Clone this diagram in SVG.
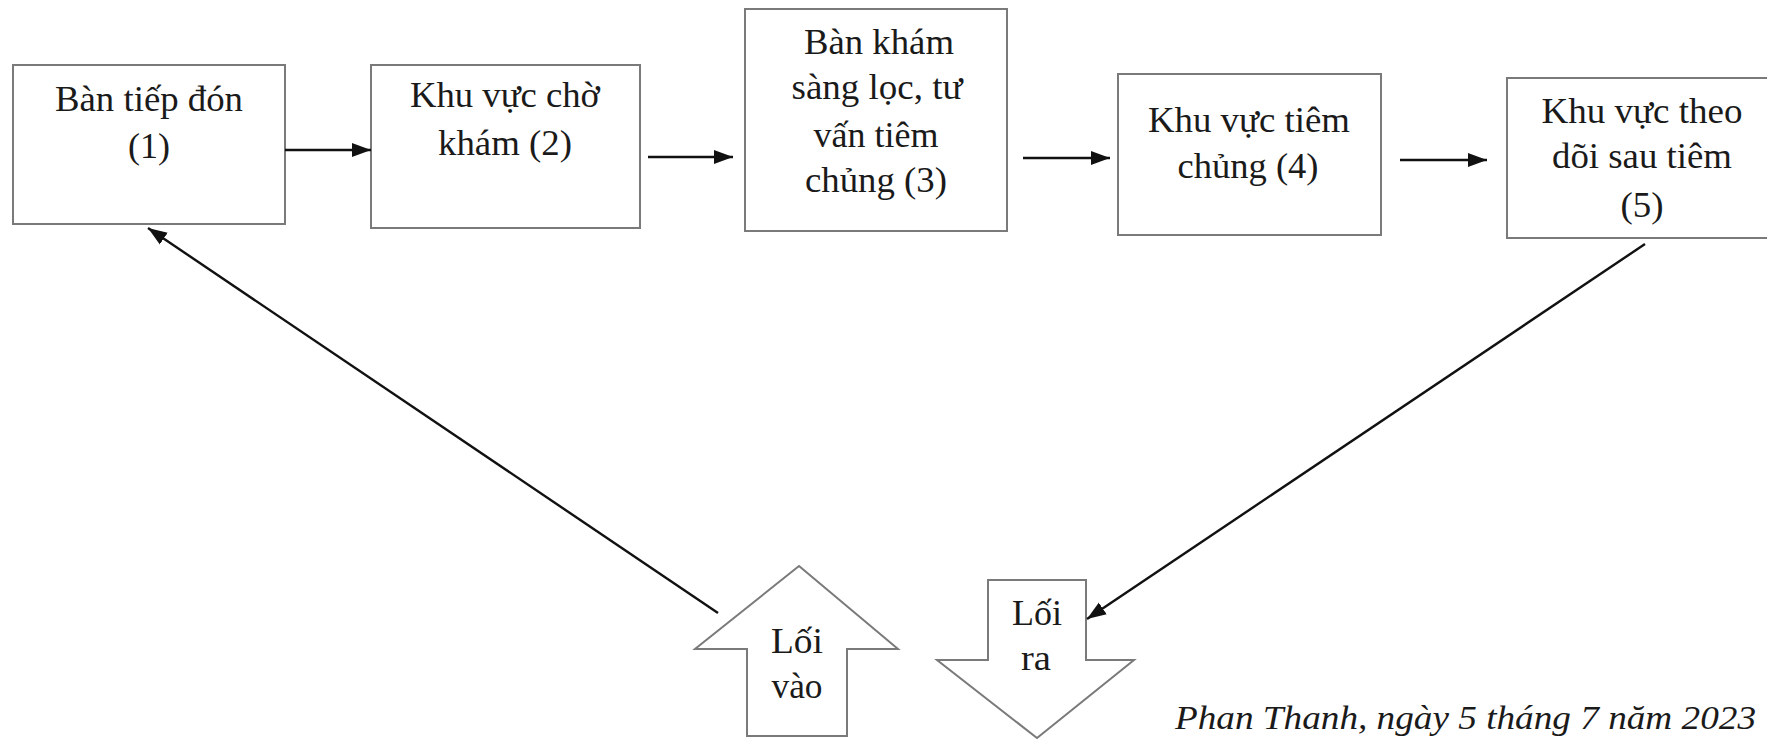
<svg xmlns="http://www.w3.org/2000/svg" width="1767" height="740" viewBox="0 0 1767 740">
<defs>
<style>
.box{fill:#ffffff;stroke:#7a7a7a;stroke-width:2}
.t{font-family:"Liberation Serif","Times New Roman",serif;font-size:35px;fill:#1a1a1a;text-anchor:middle}
.c{stroke:#111;stroke-width:2.4;fill:none}
.date{font-family:"Liberation Serif","Times New Roman",serif;font-size:33px;font-style:italic;fill:#1a1a1a}
</style>
<marker id="ah" markerUnits="userSpaceOnUse" markerWidth="20" markerHeight="16" refX="19" refY="8" orient="auto">
<path d="M0,1 L19,8 L0,15 z" fill="#111"/>
</marker>
</defs>
<rect width="1767" height="740" fill="#ffffff"/>

<g id="node1">
<rect class="box" x="13" y="65" width="272" height="159"/>
<text class="t" x="149" y="111" textLength="188" lengthAdjust="spacingAndGlyphs">Bàn tiếp đón</text>
<text class="t" x="149" y="158" textLength="42" lengthAdjust="spacingAndGlyphs">(1)</text>
</g>

<g id="node2">
<rect class="box" x="371" y="65" width="269" height="163"/>
<text class="t" x="505" y="107" textLength="190" lengthAdjust="spacingAndGlyphs">Khu vực chờ</text>
<text class="t" x="505" y="155" textLength="134" lengthAdjust="spacingAndGlyphs">khám (2)</text>
</g>

<g id="node3">
<rect class="box" x="745" y="9" width="262" height="222"/>
<text class="t" x="879" y="54" textLength="150" lengthAdjust="spacingAndGlyphs">Bàn khám</text>
<text class="t" x="877" y="99" textLength="171" lengthAdjust="spacingAndGlyphs">sàng lọc, tư</text>
<text class="t" x="876" y="147" textLength="125" lengthAdjust="spacingAndGlyphs">vấn tiêm</text>
<text class="t" x="876" y="192" textLength="142" lengthAdjust="spacingAndGlyphs">chủng (3)</text>
</g>

<g id="node4">
<rect class="box" x="1118" y="74" width="263" height="161"/>
<text class="t" x="1249" y="132" textLength="202" lengthAdjust="spacingAndGlyphs">Khu vực tiêm</text>
<text class="t" x="1248" y="178" textLength="141" lengthAdjust="spacingAndGlyphs">chủng (4)</text>
</g>

<g id="node5">
<rect class="box" x="1507" y="78" width="262" height="160"/>
<text class="t" x="1642" y="123" textLength="201" lengthAdjust="spacingAndGlyphs">Khu vực theo</text>
<text class="t" x="1642" y="168" textLength="180" lengthAdjust="spacingAndGlyphs">dõi sau tiêm</text>
<text class="t" x="1642" y="217" textLength="43" lengthAdjust="spacingAndGlyphs">(5)</text>
</g>

<g id="entrance">
<polygon class="box" points="799,566 898,649 847,649 847,736 747,736 747,649 695,649"/>
<text class="t" x="797" y="653" textLength="52" lengthAdjust="spacingAndGlyphs">Lối</text>
<text class="t" x="797" y="698" textLength="51" lengthAdjust="spacingAndGlyphs">vào</text>
</g>

<g id="exit">
<polygon class="box" points="988,580 1086,580 1086,660 1134,660 1037,738 937,660 988,660"/>
<text class="t" x="1037" y="625" textLength="50" lengthAdjust="spacingAndGlyphs">Lối</text>
<text class="t" x="1036" y="670" textLength="30" lengthAdjust="spacingAndGlyphs">ra</text>
</g>

<g id="connectors">
<line class="c" x1="285" y1="150" x2="371" y2="150" marker-end="url(#ah)"/>
<line class="c" x1="648" y1="157" x2="733" y2="157" marker-end="url(#ah)"/>
<line class="c" x1="1023" y1="158" x2="1110" y2="158" marker-end="url(#ah)"/>
<line class="c" x1="1400" y1="160" x2="1487" y2="160" marker-end="url(#ah)"/>
<line class="c" x1="718" y1="613" x2="148" y2="228" marker-end="url(#ah)"/>
<line class="c" x1="1645" y1="244" x2="1087" y2="619" marker-end="url(#ah)"/>
</g>

<text class="date" x="1175" y="729" textLength="581" lengthAdjust="spacingAndGlyphs">Phan Thanh, ngày 5 tháng 7 năm 2023</text>
</svg>
